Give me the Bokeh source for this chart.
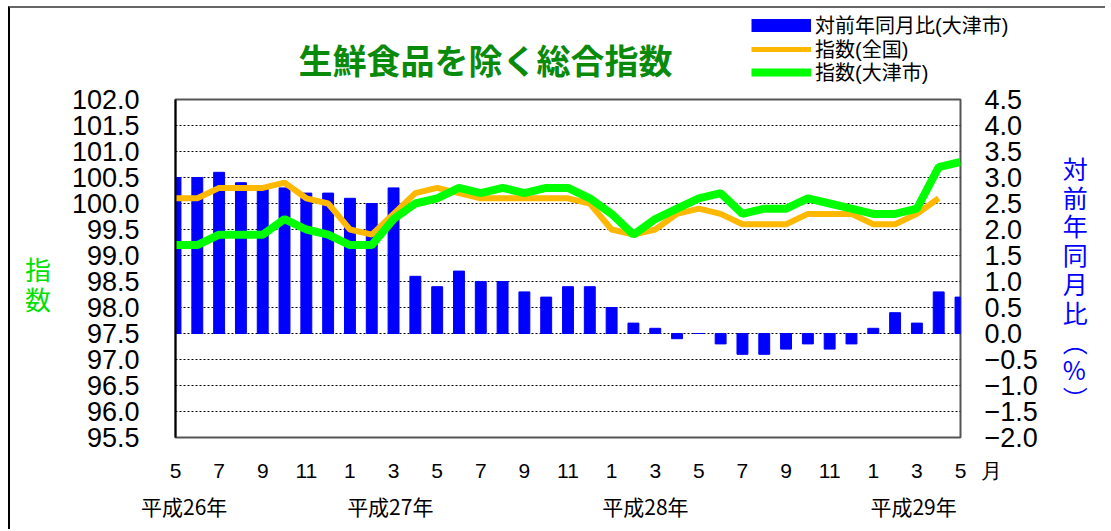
from bokeh.plotting import figure
from bokeh.models import (Range1d, LinearAxis, FixedTicker, Label, Legend,
                          LegendItem, ColumnDataSource, Grid)
from bokeh.layouts import column
from bokeh.embed import file_html
from bokeh.resources import INLINE

# ---- data ----
months = [5, 6, 7, 8, 9, 10, 11, 12, 1, 2, 3, 4, 5, 6, 7, 8, 9, 10, 11, 12,
          1, 2, 3, 4, 5, 6, 7, 8, 9, 10, 11, 12, 1, 2, 3, 4, 5]
month_unit = "月"
year_labels = ["平成26年", "平成27年", "平成28年", "平成29年"]
year_label_pos = [0.4, 9.85, 21.55, 33.85]

yoy_otsu = [3.0, 3.0, 3.1, 2.9, 2.8, 2.8, 2.7, 2.7, 2.6, 2.5, 2.8,
            1.1, 0.9, 1.2, 1.0, 1.0, 0.8, 0.7, 0.9, 0.9, 0.5, 0.2, 0.1,
            -0.1, 0.0, -0.2, -0.4, -0.4, -0.3, -0.2, -0.3, -0.2, 0.1, 0.4, 0.2, 0.8, 0.7]
index_national = [100.1, 100.1, 100.3, 100.3, 100.3, 100.4, 100.1, 100.0, 99.5, 99.4, 99.8,
                  100.2, 100.3, 100.2, 100.1, 100.1, 100.1, 100.1, 100.1, 100.0, 99.5, 99.4, 99.5,
                  99.8, 99.9, 99.8, 99.6, 99.6, 99.6, 99.8, 99.8, 99.8, 99.6, 99.6, 99.8, 100.1,
                  float("nan")]
index_otsu = [99.2, 99.2, 99.4, 99.4, 99.4, 99.7, 99.5, 99.4, 99.2, 99.2, 99.7,
              100.0, 100.1, 100.3, 100.2, 100.3, 100.2, 100.3, 100.3, 100.1, 99.8, 99.4, 99.7,
              99.9, 100.1, 100.2, 99.8, 99.9, 99.9, 100.1, 100.0, 99.9, 99.8, 99.8, 99.9, 100.7, 100.8]

left_ticks = [95.5, 96.0, 96.5, 97.0, 97.5, 98.0, 98.5, 99.0, 99.5, 100.0, 100.5, 101.0, 101.5, 102.0]
left_tick_labels = ["95.5", "96.0", "96.5", "97.0", "97.5", "98.0", "98.5", "99.0", "99.5",
                    "100.0", "100.5", "101.0", "101.5", "102.0"]
right_ticks = [-2.0, -1.5, -1.0, -0.5, 0.0, 0.5, 1.0, 1.5, 2.0, 2.5, 3.0, 3.5, 4.0, 4.5]
right_tick_labels = ["−2.0", "−1.5", "−1.0", "−0.5", "0.0", "0.5", "1.0", "1.5", "2.0",
                     "2.5", "3.0", "3.5", "4.0", "4.5"]

title_text = "生鮮食品を除く総合指数"
left_title = "指数"
right_title = "対前年同月比(%)"
legend_labels = ["対前年同月比(大津市)", "指数(全国)", "指数(大津市)"]

C_BAR = "#0000FF"
C_NAT = "#FFB800"
C_OTSU = "#00FF00"
JP = "Noto Sans CJK JP"
NUM = "Liberation Sans"
MIX = "Liberation Sans, Noto Sans CJK JP"

# ---------------- header (title + legend) ----------------
HW, HH = 1095, 76
header = figure(width=HW, height=HH, output_backend="svg", toolbar_location=None,
                x_range=Range1d(0, HW), y_range=Range1d(0, HH),
                x_axis_type=None, y_axis_type=None,
                min_border_left=0, min_border_right=0, min_border_top=0, min_border_bottom=0)
header.frame_align = False
header.outline_line_color = None
header.background_fill_color = "white"
header.border_fill_color = "white"

nan = float("nan")
k_bar = header.line(x=[nan], y=[nan], line_color=C_BAR, line_width=13)
k_nat = header.line(x=[nan], y=[nan], line_color=C_NAT, line_width=5)
k_otsu = header.line(x=[nan], y=[nan], line_color=C_OTSU, line_width=8)

# one legend row per key so the rows can sit as tightly as in the original
for lab, rend, yloc in zip(legend_labels, [k_bar, k_nat, k_otsu], [45, 21, -2]):
    lg = Legend(items=[LegendItem(label=lab, renderers=[rend])],
                location=(741, yloc), orientation="vertical",
                glyph_width=60, glyph_height=20, label_height=20, spacing=0,
                padding=0, margin=0, border_line_color=None, background_fill_alpha=0,
                label_text_font=MIX, label_text_font_size="20px", label_standoff=4,
                label_text_color="black")
    header.add_layout(lg)

header.add_layout(Label(x=475, y=25, text=title_text, text_align="center", text_baseline="middle",
                        text_font=JP, text_font_size="34px", text_font_style="bold",
                        text_color="#0A8A0A"))

# ---------------- main chart ----------------
xs = list(range(len(months)))
src = ColumnDataSource(dict(x=xs, yoy=yoy_otsu, nat=index_national, otsu=index_otsu))

p = figure(width=1095, height=445, output_backend="svg", toolbar_location=None,
           x_range=Range1d(0, 36), y_range=Range1d(95.5, 102.0),
           x_axis_type=None, y_axis_type=None,
           min_border_left=165, min_border_right=145, min_border_top=15, min_border_bottom=92)
p.frame_align = False
p.extra_y_ranges = {"pct": Range1d(-2.0, 4.5)}
p.outline_line_color = "#555555"
p.outline_line_width = 2
p.background_fill_color = "white"
p.border_fill_color = "white"

grid = Grid(dimension=1, ticker=FixedTicker(ticks=left_ticks[1:-1]),
            grid_line_color="black", grid_line_dash="2 2", grid_line_width=1)
p.add_layout(grid)

yl = LinearAxis(ticker=FixedTicker(ticks=left_ticks),
                major_label_overrides={t: s for t, s in zip(left_ticks, left_tick_labels)},
                axis_line_color="black", axis_line_width=2,
                major_tick_in=0, major_tick_out=0, minor_tick_in=0, minor_tick_out=0,
                major_label_standoff=36, major_label_text_font=NUM,
                major_label_text_font_size="27px", major_label_text_color="black",
                axis_label="\u3000\n" + "\n".join(left_title), axis_label_orientation="horizontal",
                axis_label_standoff=18, axis_label_text_font=JP,
                axis_label_text_font_size="26px", axis_label_text_font_style="normal",
                axis_label_text_color="#00E000", axis_label_text_line_height=0.8)
p.add_layout(yl, "left")

yr = LinearAxis(y_range_name="pct", ticker=FixedTicker(ticks=right_ticks),
                major_label_overrides={t: s for t, s in zip(right_ticks, right_tick_labels)},
                axis_line_color=None,
                major_tick_in=0, major_tick_out=0, minor_tick_in=0, minor_tick_out=0,
                major_label_standoff=24, major_label_text_font=NUM,
                major_label_text_font_size="27px", major_label_text_color="black",
                axis_label="\u3000\n対\n前\n年\n同\n月\n比\n︵\n%\n︶", axis_label_orientation="horizontal",
                axis_label_standoff=22, axis_label_text_font=JP,
                axis_label_text_font_size="25px", axis_label_text_font_style="normal",
                axis_label_text_color=C_BAR, axis_label_text_line_height=0.8)
p.add_layout(yr, "right")

month_ticks = xs[::2]
month_text = {i: str(months[i]) for i in month_ticks}
# last tick carries the unit, padded so the number stays centred on its tick
month_text[month_ticks[-1]] = "\u3000\u2002\u2009" + str(months[-1]) + "\u2002\u2009" + month_unit
xm = LinearAxis(ticker=FixedTicker(ticks=month_ticks), major_label_overrides=month_text,
                axis_line_color=None,
                major_tick_in=0, major_tick_out=0, minor_tick_in=0, minor_tick_out=0,
                major_label_standoff=21, major_label_text_font=NUM,
                major_label_text_font_size="21px", major_label_text_color="black")
p.add_layout(xm, "below")

xy = LinearAxis(ticker=FixedTicker(ticks=year_label_pos),
                major_label_overrides={t: s for t, s in zip(year_label_pos, year_labels)},
                axis_line_color=None,
                major_tick_in=0, major_tick_out=0, minor_tick_in=0, minor_tick_out=0,
                major_label_standoff=6, major_label_text_font=JP,
                major_label_text_font_size="21px", major_label_text_color="black")
p.add_layout(xy, "below")

bars = p.vbar(x="x", top="yoy", bottom=0, width=0.5, source=src, y_range_name="pct",
              fill_color=C_BAR, line_color=C_BAR)
l_nat = p.line(x="x", y="nat", source=src, line_color=C_NAT, line_width=6)
l_otsu = p.line(x="x", y="otsu", source=src, line_color=C_OTSU, line_width=8)

layout = column(header, p, spacing=0,
                styles={"margin-left": "8px", "margin-top": "6px",
                        "border-left": "2px solid black", "border-top": "2px solid #666666"})

open("out.html", "w").write(file_html(layout, INLINE))
